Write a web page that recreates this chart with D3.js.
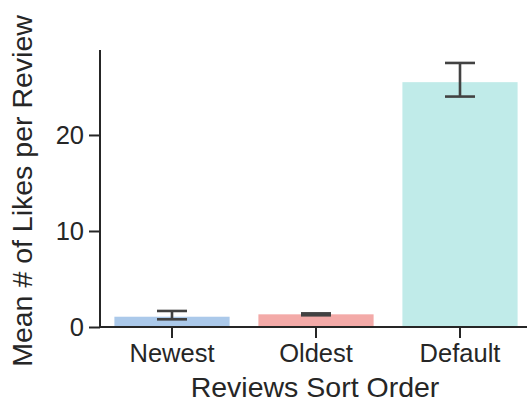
<!DOCTYPE html>
<html>
<head>
<meta charset="utf-8">
<script src="https://cdn.jsdelivr.net/npm/d3@7"></script>
<style>
  html, body { margin: 0; padding: 0; background: #fff; }
  svg { display: block; }
  text { font-family: "Liberation Sans", Arial, sans-serif; fill: #262626; }
</style>
</head>
<body>
<svg id="chart" width="527" height="400"></svg>
<script>
// Mean likes per review for each sort order, with 95% CI bounds
const categories = ["Newest", "Oldest", "Default"];
const means = [1.07, 1.32, 25.5];
const ciLow = [0.80, 1.22, 24.0];
const ciHigh = [1.67, 1.42, 27.5];
const barColors = ["#abc9ea", "#f3aaa8", "#c0ebe9"];
const yTicks = [0, 10, 20];

const svg = d3.select("#chart");
const plotL = 100, plotR = 532, plotT = 50, plotB = 327;
const ink = "#262626";
const tickFont = 25.5, titleFont = 28.5;

const x = d3.scaleBand().domain(categories).range([plotL, plotR])
  .paddingInner(0.2).paddingOuter(0.1);
const y = d3.scaleLinear().domain([0, 28.85]).range([plotB, plotT]);

const rows = categories.map((c, i) => ({ c, m: means[i], lo: ciLow[i], hi: ciHigh[i], col: barColors[i] }));

// bars
svg.append("g").selectAll("rect").data(rows).join("rect")
  .attr("x", d => x(d.c))
  .attr("width", x.bandwidth())
  .attr("y", d => y(d.m))
  .attr("height", d => y(0) - y(d.m))
  .attr("fill", d => d.col);

// error bars with caps
const capW = 30;
const eb = svg.append("g").attr("stroke", "#424242").attr("stroke-width", 2.6).attr("fill", "none");
rows.forEach(d => {
  const cx = x(d.c) + x.bandwidth() / 2;
  eb.append("line").attr("x1", cx).attr("x2", cx).attr("y1", y(d.lo)).attr("y2", y(d.hi));
  eb.append("line").attr("x1", cx - capW / 2).attr("x2", cx + capW / 2).attr("y1", y(d.lo)).attr("y2", y(d.lo));
  eb.append("line").attr("x1", cx - capW / 2).attr("x2", cx + capW / 2).attr("y1", y(d.hi)).attr("y2", y(d.hi));
});

// axes
const yAxis = svg.append("g").attr("transform", `translate(${plotL},0)`)
  .call(d3.axisLeft(y).tickValues(yTicks).tickSize(11).tickPadding(5));
const xAxis = svg.append("g").attr("transform", `translate(0,${plotB})`)
  .call(d3.axisBottom(x).tickSize(11).tickPadding(6));

[yAxis, xAxis].forEach(g => {
  g.select(".domain").attr("stroke", ink).attr("stroke-width", 2);
  g.selectAll(".tick line").attr("stroke", ink).attr("stroke-width", 2);
  g.selectAll(".tick text").attr("font-size", tickFont).attr("fill", ink)
    .style("font-family", "'Liberation Sans', Arial, sans-serif");
});
// bottom spine starts at the y axis, no outer tick
xAxis.select(".domain").attr("d", `M${plotL},0H${plotR}`);
yAxis.select(".domain").attr("d", `M0,${plotT}V${plotB}`);

// axis titles
svg.append("text")
  .attr("x", 315).attr("y", 397)
  .attr("text-anchor", "middle").attr("font-size", titleFont)
  .text("Reviews Sort Order");
svg.append("text")
  .attr("transform", `translate(32,191) rotate(-90)`)
  .attr("text-anchor", "middle").attr("font-size", titleFont)
  .text("Mean # of Likes per Review");
</script>
</body>
</html>
